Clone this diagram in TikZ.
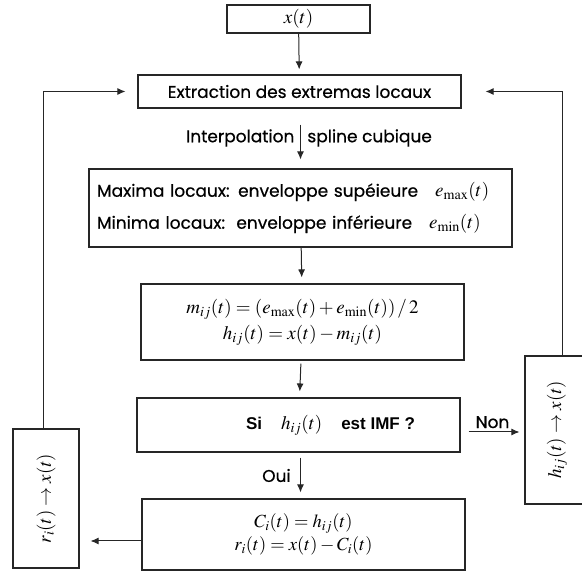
\documentclass[tikz,border=0pt]{standalone}
\usepackage{mathptmx}
\usepackage{fontspec}
\setmainfont{Poppins}[FakeBold=0.6]
\newfontfamily\arialfont{Liberation Sans}
\usetikzlibrary{arrows.meta}
\begin{document}
\begin{tikzpicture}[>={Latex[length=8pt,width=7pt]}, x=1pt, y=-1pt,
		boite/.style={draw=black!85, line width=1.1pt, inner sep=0pt, align=center, font=\fontsize{19}{26}\selectfont},
		texte/.style={font=\fontsize{17}{21}\selectfont},
		fleche/.style={->, line width=1pt, black!85}]
	\path[use as bounding box, clip] (0,0) rectangle (582,572);
	% blocs principaux
	\node[boite, minimum width=143, minimum height=28] (xt) at (298.5,19) {$x(t)$};
	\node[boite, texte, minimum width=323, minimum height=33] (extr) at (299.5,91.5) {Extraction des extremas locaux};
	\node[boite, texte, minimum width=423, minimum height=78, text width=407, align=left] (env) at (300.5,208)
		{Maxima locaux: enveloppe supéieure\quad {\fontsize{19}{21}\selectfont$e_{\max}(t)$}\\[11pt]
		 Minima locaux:\ \ enveloppe inférieure\quad {\fontsize{19}{21}\selectfont$e_{\min}(t)$}};
	\node[boite, minimum width=323, minimum height=76] (mij) at (302.5,322)
		{$m_{ij}(t)=(e_{\max}(t)+e_{\min}(t))\,/\,2$\\$h_{ij}(t)=x(t)-m_{ij}(t)$};
	\node[boite, minimum width=323, minimum height=54] (si) at (298.5,425)
		{\hspace*{64pt}{\arialfont\bfseries\fontsize{17}{21}\selectfont Si}\quad $h_{ij}(t)$\quad {\arialfont\bfseries\fontsize{17}{21}\selectfont est IMF ?}};
	\node[boite, minimum width=323, minimum height=71, font=\fontsize{18.5}{23}\selectfont] (ci) at (303.5,534.5)
		{$C_i(t)=h_{ij}(t)$\\$r_i(t)=x(t)-C_i(t)$};
	% blocs de retour
	\node[boite, rotate=90, minimum width=139, minimum height=66] (rbox) at (46,498.5) {$r_i(t)\rightarrow x(t)$};
	\node[boite, rotate=90, minimum width=148, minimum height=64] (hbox) at (557,430) {$h_{ij}(t)\rightarrow x(t)$};
	% fleches
	\draw[fleche, shorten >=5pt] (xt) -- (extr);
	\draw[fleche, shorten <=16pt, shorten >=9pt] ([xshift=1pt]extr.south) -- ([xshift=0pt]env.north);
	\node[texte] (interp) at (309,138) {Interpolation\hspace{13pt}spline cubique};
	\draw[fleche, shorten >=6pt] (env) -- (mij);
	\draw[fleche, shorten <=3pt, shorten >=6pt] (mij) -- (si);
	\draw[fleche, shorten <=5pt, shorten >=6pt] ([xshift=2pt]si.south) -- ([xshift=-3pt]ci.north)
		node[midway, left=6pt, texte, black] {Oui};
	\draw[fleche, shorten <=8pt, shorten >=5pt] ([yshift=-7pt]si.east) -- ([yshift=-7pt]si.east -| hbox.north)
		node[midway, above, texte, black] {Non};
	\draw[fleche, shorten >=24pt] ([xshift=5pt]hbox.east) |- (extr.east);
	\draw[fleche, shorten >=11pt] ([yshift=-6.5pt]ci.west) -- ([yshift=-6.5pt]ci.west -| rbox.south);
	\draw[fleche, shorten >=12pt] ([xshift=-3pt]rbox.east) |- (extr.west);
\end{tikzpicture}
\end{document}
